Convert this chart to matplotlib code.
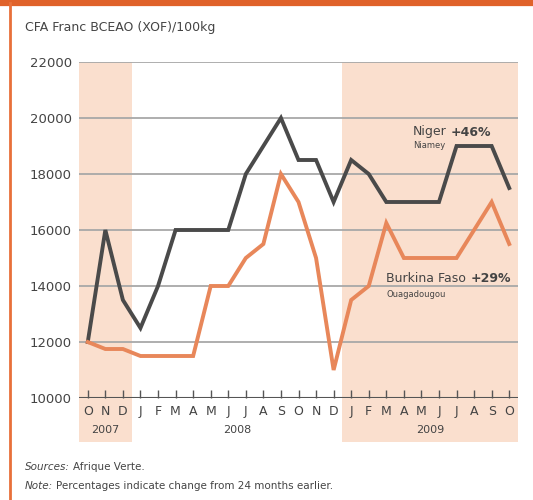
import matplotlib
matplotlib.use("Agg")
import matplotlib.pyplot as plt
from matplotlib.patches import Rectangle
from matplotlib.lines import Line2D
import matplotlib.transforms as mtransforms

months = ["O", "N", "D", "J", "F", "M", "A", "M", "J", "J", "A", "S", "O", "N", "D",
          "J", "F", "M", "A", "M", "J", "J", "A", "S", "O"]
years = ["2007", "2008", "2009"]
year_spans = [(0, 2), (3, 14), (15, 24)]
niger = [12000, 16000, 13500, 12500, 14000, 16000, 16000, 16000, 16000, 18000, 19000, 20000,
         18500, 18500, 17000, 18500, 18000, 17000, 17000, 17000, 17000, 19000, 19000, 19000, 17500]
burkina = [12000, 11750, 11750, 11500, 11500, 11500, 11500, 14000, 14000, 15000, 15500, 18000,
           17000, 15000, 11000, 13500, 14000, 16250, 15000, 15000, 15000, 15000, 16000, 17000, 15500]
yticks = [10000, 12000, 14000, 16000, 18000, 20000, 22000]

shade = "#FADFCE"
dark = "#4a4a4a"
orange = "#E8875A"
txt = "#444444"

fig = plt.figure(figsize=(5.33, 5.0), dpi=100)
ax = fig.add_axes([79/533, 102/500, 439/533, 336/500])
x = list(range(len(months)))

trans = mtransforms.blended_transform_factory(ax.transData, ax.transAxes)
for i, (a, b) in enumerate(year_spans):
    if i % 2 == 0:
        ax.add_patch(Rectangle((a - 0.5, -0.131), b - a + 1, 1.131, transform=trans,
                               facecolor=shade, edgecolor="none", clip_on=False, zorder=0))

for yv in yticks[1:]:
    ax.axhline(yv, color="#a8a8a8", lw=1.3, zorder=1)
ax.axhline(10000, color="#555555", lw=1.5, zorder=3)

ax.plot(x, niger, color=dark, lw=2.8, zorder=4, solid_joinstyle="miter")
ax.plot(x, burkina, color=orange, lw=2.8, zorder=4, solid_joinstyle="miter")

ax.set_xlim(-0.5, 24.5)
ax.set_ylim(10000, 22000)
for s in ax.spines.values():
    s.set_visible(False)
ax.set_yticks(yticks)
ax.set_yticklabels([str(v) for v in yticks], fontsize=9.5, color=txt)
ax.tick_params(axis="y", length=0, pad=5)
ax.set_xticks(x)
ax.set_xticklabels(months, fontsize=9, color=txt)
ax.tick_params(axis="x", direction="in", length=6, width=1, color="#555555", pad=5)
ax.patch.set_alpha(0)

for (a, b), yr in zip(year_spans, years):
    ax.text((a + b) / 2, -0.095, yr, transform=trans, ha="center", va="center",
            fontsize=8, color=txt)

fig.canvas.draw()
renderer = fig.canvas.get_renderer()

def two_part(xd, yd, t1, t2, size, sub, subsize, dy_sub):
    t = ax.text(xd, yd, t1, fontsize=size, color=txt, ha="left", va="center")
    w = t.get_window_extent(renderer=renderer).width
    ax.annotate(t2, (xd, yd), xytext=(w * 72 / fig.dpi + 3, 0), textcoords="offset points",
                fontsize=size, color=txt, fontweight="bold", ha="left", va="center")
    ax.text(xd, yd - dy_sub, sub, fontsize=subsize, color=txt, ha="left", va="center")

two_part(18.5, 19500, "Niger", "+46%", 9, "Niamey", 6, 480)
two_part(17.0, 14250, "Burkina Faso", "+29%", 9, "Ouagadougou", 6, 560)

fig.text(25/533, 1 - 28/500, "CFA Franc BCEAO (XOF)/100kg", fontsize=9, color=txt,
         ha="left", va="center")
s1 = fig.text(25/533, 1 - 467/500, "Sources:", fontsize=7.5, color=txt, style="italic",
              ha="left", va="center")
w1 = s1.get_window_extent(renderer=renderer).width
fig.text((25 + w1 + 3) / 533, 1 - 467/500, "Afrique Verte.", fontsize=7.5, color=txt,
         ha="left", va="center")
s2 = fig.text(25/533, 1 - 486/500, "Note:", fontsize=7.5, color=txt, style="italic",
              ha="left", va="center")
w2 = s2.get_window_extent(renderer=renderer).width
fig.text((25 + w2 + 3) / 533, 1 - 486/500, "Percentages indicate change from 24 months earlier.",
         fontsize=7.5, color=txt, ha="left", va="center")

fig.add_artist(Line2D([0, 1], [1 - 3/500, 1 - 3/500], transform=fig.transFigure,
                      color="#E0622A", lw=4.5))
fig.add_artist(Line2D([10/533, 10/533], [0, 1 - 3/500], transform=fig.transFigure,
                      color="#E8703A", lw=2))

fig.savefig("out.png", dpi=100)
